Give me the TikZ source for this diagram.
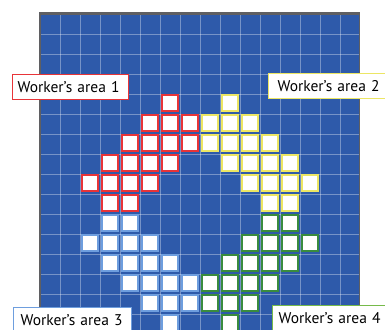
\documentclass[tikz,border=0pt]{standalone}
\usepackage{fontspec}
\setmainfont{PT Sans}

\definecolor{floorblue}{RGB}{46,90,170}
\definecolor{framegray}{RGB}{95,95,98}
\definecolor{areared}{RGB}{232,52,56}
\definecolor{areayellow}{RGB}{236,230,100}
\definecolor{arealblue}{RGB}{110,158,222}
\definecolor{areagreen}{RGB}{58,140,62}
\definecolor{labelgreen}{RGB}{118,186,74}

\begin{document}
\begin{tikzpicture}[x=20pt, y=-20pt, line width=0.7pt,
  gridline/.style={white, opacity=0.35, line width=0.8pt},
  cellbox/.style={fill=white, line width=2pt},
  areabox/.style={draw, fill=white, line width=1.2pt, anchor=north west,
    minimum height=25pt, inner ysep=0pt, align=left,
    font=\fontsize{15.5}{18}\selectfont}]
  \useasboundingbox (0,0) rectangle (19.25,16.45);
  \clip (0,0) rectangle (19.25,16.45);
  % floor
  \fill[floorblue] (2,0.7) rectangle (17.95,16.6);
  % grid
  \foreach \i in {1,...,15} \draw[gridline] (2+\i,0.7) -- (2+\i,16.6);
  \foreach \j in {1,...,15} \draw[gridline] (2,0.7+\j) -- (17.95,0.7+\j);
  % frame
  \draw[framegray, line width=1.6pt] (2,0.7) -- (2,16.6) (17.97,0.7) -- (17.97,16.6);
  \draw[framegray, line width=2.8pt] (1.96,0.66) -- (18.01,0.66);
  % worker 1 (red)
  \foreach \c/\r in {6/4, 5/5,6/5,7/5, 4/6,5/6,6/6,7/6, 3/7,4/7,5/7,6/7,
                     2/8,3/8,4/8,5/8, 3/9,4/9}
    \draw[cellbox, draw=areared] (2.08+\c,0.77+\r) rectangle ++(0.8,0.77);
  % worker 2 (yellow)
  \foreach \c/\r in {9/4, 8/5,9/5,10/5, 8/6,9/6,10/6,11/6, 9/7,10/7,11/7,12/7,
                     10/8,11/8,12/8,13/8, 11/9,12/9}
    \draw[cellbox, draw=areayellow] (2.08+\c,0.77+\r) rectangle ++(0.8,0.77);
  % worker 3 (light blue)
  \foreach \c/\r in {3/10,4/10, 2/11,3/11,4/11,5/11, 3/12,4/12,5/12,6/12,
                     4/13,5/13,6/13,7/13, 5/14,6/14,7/14, 6/15}
    \draw[cellbox, draw=arealblue] (2.08+\c,0.77+\r) rectangle ++(0.8,0.77);
  % worker 4 (green)
  \foreach \c/\r in {11/10,12/10, 10/11,11/11,12/11,13/11, 9/12,10/12,11/12,12/12,
                     8/13,9/13,10/13,11/13, 8/14,9/14,10/14, 9/15}
    \draw[cellbox, draw=areagreen] (2.08+\c,0.77+\r) rectangle ++(0.8,0.77);
  % labels
  \node[areabox, draw=areared, text width=106pt, inner xsep=5pt] (area1) at (0.6,3.7) {Worker’s area 1};
  \node[areabox, draw=areayellow, text width=120pt, inner xsep=9pt] (area2) at (13.4,3.66) {Worker’s area 2};
  \node[areabox, draw=arealblue, text width=104pt, inner xsep=7pt] (area3) at (0.65,15.35) {Worker’s area 3};
  \node[areabox, draw=labelgreen, text width=120pt, inner xsep=6pt] (area4) at (13.6,15.25) {Worker’s area 4};
\end{tikzpicture}
\end{document}
